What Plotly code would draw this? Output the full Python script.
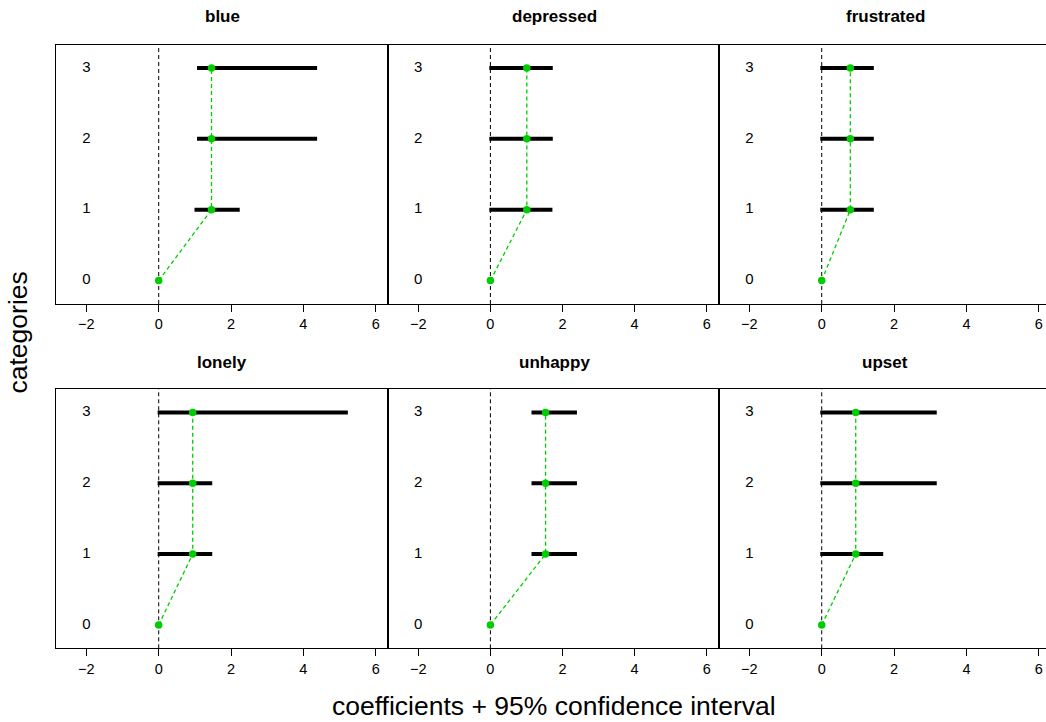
import plotly.graph_objects as go

# ---------------- data ----------------
emotions = ["blue", "depressed", "frustrated", "lonely", "unhappy", "upset"]
categories = [0, 1, 2, 3]
category_labels = ["0", "1", "2", "3"]
x_tickvals = [-2, 0, 2, 4, 6]

# coefficient estimates per category (category 0 = reference)
blue_est = [0, 1.46, 1.46, 1.46]
depressed_est = [0, 1.01, 1.01, 1.01]
frustrated_est = [0, 0.79, 0.79, 0.79]
lonely_est = [0, 0.94, 0.94, 0.94]
unhappy_est = [0, 1.53, 1.53, 1.53]
upset_est = [0, 0.94, 0.94, 0.94]

# 95% CI lower / upper bounds (category 0 has no interval)
blue_lo = [None, 0.99, 1.06, 1.06]
blue_hi = [None, 2.24, 4.38, 4.38]
depressed_lo = [None, -0.03, -0.03, -0.03]
depressed_hi = [None, 1.72, 1.73, 1.73]
frustrated_lo = [None, -0.04, -0.04, -0.04]
frustrated_hi = [None, 1.44, 1.44, 1.44]
lonely_lo = [None, -0.03, -0.03, -0.03]
lonely_hi = [None, 1.48, 1.48, 5.23]
unhappy_lo = [None, 1.14, 1.14, 1.14]
unhappy_hi = [None, 2.40, 2.40, 2.40]
upset_lo = [None, -0.04, -0.04, -0.04]
upset_hi = [None, 1.70, 3.18, 3.18]

estimates = [blue_est, depressed_est, frustrated_est, lonely_est, unhappy_est, upset_est]
lowers = [blue_lo, depressed_lo, frustrated_lo, lonely_lo, unhappy_lo, upset_lo]
uppers = [blue_hi, depressed_hi, frustrated_hi, lonely_hi, unhappy_hi, upset_hi]

# ---------------- layout geometry ----------------
W, H = 1046, 722
FONT = "Liberation Sans, Arial, Helvetica, sans-serif"
GREEN = "#00CD00"

col_px = [(56, 388), (388, 719), (719, 1046)]
row_px = [(44.5, 304), (389, 648.3)]
x_ranges = [[-2.84, 6.34], [-2.84, 6.34], [-2.84, 6.20]]
y_range = [-0.33, 3.33]

fig = go.Figure()
layout = dict(
    width=W, height=H, autosize=False,
    margin=dict(l=0, r=0, t=0, b=0),
    paper_bgcolor="white", plot_bgcolor="white",
    showlegend=False,
    font=dict(family=FONT, color="black"),
)
annotations = []
shapes = []

for i, name in enumerate(emotions):
    r, c = divmod(i, 3)
    idx = "" if i == 0 else str(i + 1)
    xa, ya = "x" + idx, "y" + idx
    x0p, x1p = col_px[c]
    y0p, y1p = row_px[r]
    xdom = [x0p / W, x1p / W]
    ydom = [1 - y1p / H, 1 - y0p / H]

    layout["xaxis" + idx] = dict(
        domain=xdom, range=x_ranges[c], anchor=ya,
        tickvals=x_tickvals, ticks="outside", ticklen=7, tickwidth=1,
        tickcolor="black", tickfont=dict(size=14.5, family=FONT, color="black"),
        showline=True, linecolor="black", linewidth=1, mirror=True,
        showgrid=False, zeroline=False, fixedrange=True,
    )
    layout["yaxis" + idx] = dict(
        domain=ydom, range=y_range, anchor=xa,
        showticklabels=False, ticks="",
        showline=True, linecolor="black", linewidth=1,
        mirror=(c != 2),
        showgrid=False, zeroline=False, fixedrange=True,
    )

    # reference line at 0
    shapes.append(dict(
        type="line", xref=xa, yref=ya + " domain", x0=0, x1=0, y0=0, y1=1,
        line=dict(color="black", width=1, dash="4px,3px"), layer="below",
    ))

    est = estimates[i]
    lo = lowers[i]
    hi = uppers[i]

    # confidence interval segments
    seg_x, seg_y = [], []
    for k, cat in enumerate(categories):
        if lo[k] is None:
            continue
        seg_x += [lo[k], hi[k], None]
        seg_y += [cat, cat, None]
    fig.add_trace(go.Scatter(
        x=seg_x, y=seg_y, mode="lines", xaxis=xa, yaxis=ya,
        line=dict(color="black", width=4), hoverinfo="skip",
    ))

    # connecting dashed green line + points
    fig.add_trace(go.Scatter(
        x=est, y=categories, mode="lines", xaxis=xa, yaxis=ya,
        line=dict(color=GREEN, width=1.3, dash="4px,3px"), hoverinfo="skip",
    ))
    fig.add_trace(go.Scatter(
        x=est, y=categories, mode="markers", xaxis=xa, yaxis=ya,
        marker=dict(color=GREEN, size=7.5, line=dict(width=0)),
    ))

    # category labels drawn inside the panel at x = -2
    fig.add_trace(go.Scatter(
        x=[x_tickvals[0]] * len(categories), y=categories, mode="text",
        text=category_labels, textposition="middle center",
        textfont=dict(size=15, family=FONT, color="black"),
        xaxis=xa, yaxis=ya, hoverinfo="skip",
    ))

    # panel title
    title_y = 17 if r == 0 else 362
    annotations.append(dict(
        text="<b>%s</b>" % name, xref="paper", yref="paper",
        x=(col_px[c][0] + (388 - 56) / 2) / W if c < 2 else (719 + 332 / 2) / W,
        y=1 - title_y / H, xanchor="center", yanchor="middle",
        showarrow=False, font=dict(size=17, family=FONT, color="black"),
    ))

# global axis titles
annotations.append(dict(
    text="coefficients + 95% confidence interval", xref="paper", yref="paper",
    x=553.5 / W, y=1 - 706 / H, xanchor="center", yanchor="middle",
    showarrow=False, font=dict(size=26.5, family=FONT, color="black"),
))
annotations.append(dict(
    text="categories", xref="paper", yref="paper",
    x=17.5 / W, y=1 - 333 / H, xanchor="center", yanchor="middle",
    textangle=-90, showarrow=False, font=dict(size=26.5, family=FONT, color="black"),
))

layout["annotations"] = annotations
layout["shapes"] = shapes
fig.update_layout(**layout)

fig.write_html(
    "out.html",
    config={"displayModeBar": False},
    post_script="document.body.style.margin='0';document.body.style.overflow='hidden';",
)
